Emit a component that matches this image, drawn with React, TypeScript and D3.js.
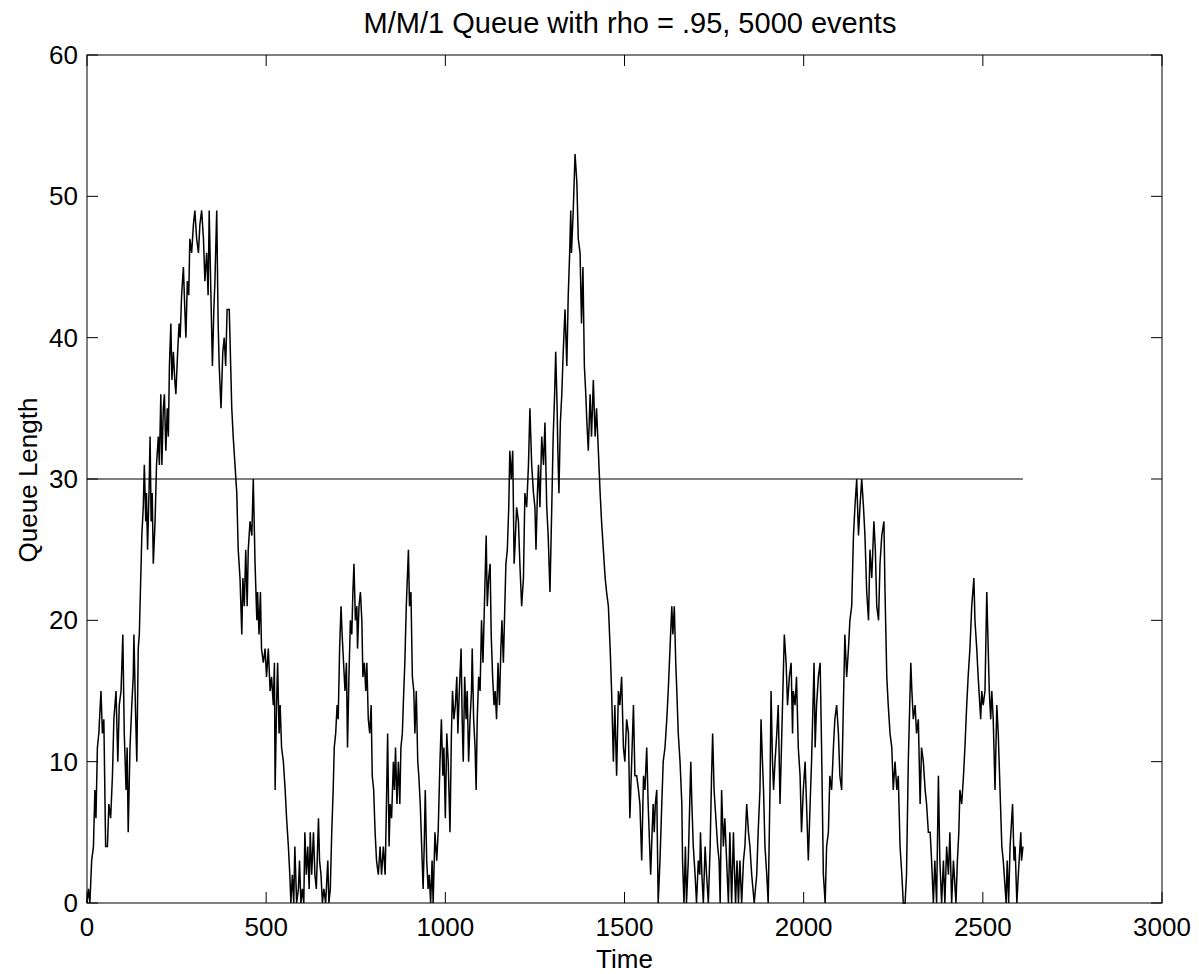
import React from "react";
import * as d3 from "d3";

const times: number[] = [
  0, 4, 8, 13, 18, 22, 25, 29, 33, 39, 43, 47, 52, 57, 61, 66, 71, 75, 81, 86, 90, 95, 100, 104, 109, 112, 115, 120, 125, 129, 131, 135, 139, 143, 146, 150, 153, 157, 160, 164, 166, 169, 173, 176, 179, 182, 185, 190, 194, 199, 202, 206, 209, 213, 216, 220, 224, 227, 230, 234, 237, 241, 245, 248, 253, 257, 260, 264, 269, 273, 276, 280, 284, 287, 292, 297, 301, 306, 311, 315, 320, 325, 329, 334, 338, 341, 345, 350, 354, 357, 362, 366, 369, 374, 379, 383, 387, 391,
  397, 401, 404, 408, 413, 418, 422, 427, 432, 435, 439, 443, 447, 450, 455, 460, 464, 469, 474, 476, 480, 484, 487, 492, 497, 501, 506, 511, 515, 520, 523, 525, 529, 532, 536, 539, 543, 548, 553, 557, 562, 566, 569, 573, 577, 580, 585, 590, 593, 597, 601, 605, 608, 612, 616, 620, 623, 627, 632, 636, 640, 646, 649, 653, 657, 661, 666, 672, 675, 679, 683, 687, 690, 694, 698, 701, 705, 709, 712, 716, 720, 724, 727, 731, 735, 739, 742, 745, 749, 753, 755, 759, 763, 767, 770, 774, 778, 781, 785, 789, 793, 796, 800,
  804, 808, 813, 818, 822, 827, 832, 835, 839, 843, 846, 850, 855, 858, 861, 865, 869, 873, 876, 880, 884, 887, 891, 894, 897, 900, 904, 908, 912, 915, 919, 923, 926, 930, 934, 938, 941, 944, 948, 952, 955, 959, 963, 966, 971, 976, 980, 985, 989, 993, 996, 1000, 1004, 1008, 1013, 1017, 1020, 1024, 1028, 1032, 1035, 1039, 1044, 1047, 1050, 1054, 1058, 1061, 1065, 1069, 1073, 1075, 1079, 1083, 1086, 1089, 1093, 1097, 1101, 1105, 1109, 1114, 1117, 1121, 1125, 1128, 1132, 1136, 1139, 1143, 1147, 1151, 1155, 1158, 1162, 1166, 1169, 1173, 1177, 1180, 1184, 1188, 1192,
  1194, 1199, 1204, 1208, 1213, 1218, 1222, 1227, 1232, 1236, 1241, 1246, 1250, 1253, 1257, 1260, 1264, 1269, 1274, 1278, 1283, 1287, 1292, 1297, 1301, 1305, 1308, 1312, 1314, 1317, 1321, 1325, 1329, 1334, 1339, 1343, 1347, 1350, 1352, 1357, 1362, 1367, 1371, 1376, 1380, 1384, 1388, 1392, 1395, 1399, 1404, 1408, 1413, 1418, 1422, 1427, 1432, 1436, 1441, 1446, 1450, 1455, 1460, 1464, 1469, 1473, 1478, 1483, 1487, 1492, 1497, 1501, 1506, 1511, 1515, 1520, 1525, 1529, 1534, 1539, 1543, 1548, 1553, 1557, 1562, 1566, 1573, 1577, 1580,
  1583, 1586, 1590, 1594, 1599, 1604, 1608, 1613, 1618, 1622, 1627, 1632, 1635, 1639, 1643, 1646, 1650, 1655, 1660, 1662, 1666, 1670, 1673, 1678, 1685, 1688, 1692, 1697, 1701, 1706, 1710, 1712, 1716, 1720, 1725, 1729, 1734, 1739, 1743, 1746, 1750, 1755, 1760, 1764, 1767, 1771, 1776, 1780, 1785, 1790, 1794, 1799, 1804, 1806, 1810, 1814, 1818, 1822, 1827, 1832, 1836, 1841, 1846, 1850, 1855, 1862, 1869, 1873, 1878, 1881, 1885, 1888, 1892, 1897, 1901, 1906, 1909, 1913, 1916, 1920, 1925, 1929, 1934, 1939, 1942, 1946, 1951, 1955, 1960, 1965, 1969,
  1971, 1976, 1980, 1985, 1990, 1994, 1999, 2004, 2008, 2013, 2018, 2022, 2026, 2029, 2032, 2036, 2041, 2046, 2050, 2055, 2060, 2064, 2069, 2073, 2078, 2083, 2087, 2092, 2097, 2101, 2106, 2110, 2115, 2120, 2125, 2129, 2134, 2139, 2143, 2148, 2153, 2157, 2162, 2167, 2171, 2176, 2181, 2185, 2190, 2196, 2200, 2204, 2209, 2213, 2218, 2224, 2227, 2232, 2236, 2241, 2246, 2250, 2255, 2260, 2264, 2269, 2274, 2278, 2283, 2287, 2292, 2299, 2302, 2306, 2311, 2315, 2320, 2325, 2329, 2334, 2339,
  2343, 2348, 2353, 2357, 2362, 2366, 2371, 2376, 2380, 2385, 2390, 2394, 2399, 2404, 2408, 2413, 2418, 2425, 2429, 2433, 2436, 2441, 2446, 2450, 2455, 2459, 2464, 2469, 2475, 2478, 2483, 2487, 2494, 2497, 2501, 2506, 2511, 2514, 2518, 2522, 2525, 2529, 2534, 2539, 2543, 2548, 2553, 2557, 2565, 2568, 2572, 2576, 2583, 2587, 2590, 2595, 2599, 2606, 2608, 2612,
];

const queueLength: number[] = [
  0, 1, 0, 3, 4, 8, 6, 11, 12, 15, 12, 13, 4, 4, 7, 6, 9, 13, 15, 10, 14, 15, 19, 12, 8, 11, 5, 11, 14, 16, 19, 14, 10, 18, 19, 23, 26, 28, 31, 27, 29, 25, 29, 33, 27, 29, 24, 27, 31, 33, 31, 36, 31, 35, 36, 32, 35, 33, 38, 41, 37, 39, 37, 36, 39, 41, 40, 43, 45, 42, 40, 44, 43, 47, 46, 48, 49, 47, 46, 48, 49, 47, 44, 46, 43, 49, 44, 38, 42, 44, 49, 41, 38, 35, 39, 40, 38, 42,
  42, 38, 35, 33, 31, 29, 25, 23, 19, 23, 21, 25, 21, 25, 27, 26, 30, 24, 20, 22, 19, 22, 18, 17, 18, 16, 18, 15, 16, 14, 17, 8, 14, 17, 12, 14, 11, 10, 8, 6, 4, 2, 0, 2, 0, 4, 0, 1, 3, 0, 1, 0, 5, 2, 4, 1, 5, 2, 5, 2, 1, 6, 3, 2, 0, 1, 0, 3, 0, 1, 5, 8, 11, 12, 14, 13, 18, 21, 19, 17, 15, 17, 11, 16, 20, 19, 22, 24, 20, 21, 18, 21, 22, 20, 16, 17, 15, 17, 13, 12, 14, 9, 8,
  5, 3, 2, 4, 2, 4, 2, 6, 12, 4, 7, 6, 10, 8, 11, 7, 10, 7, 11, 12, 15, 17, 21, 23, 25, 21, 22, 16, 15, 12, 15, 10, 9, 7, 4, 1, 4, 8, 3, 1, 2, 0, 3, 0, 5, 3, 5, 10, 13, 9, 11, 6, 12, 10, 5, 12, 15, 13, 14, 16, 12, 15, 18, 13, 10, 16, 13, 15, 10, 13, 15, 18, 13, 11, 8, 13, 16, 15, 20, 17, 21, 26, 21, 23, 24, 19, 16, 14, 15, 13, 17, 14, 18, 20, 17, 21, 24, 25, 28, 32, 30, 32, 24,
  25, 28, 27, 24, 21, 23, 29, 28, 31, 35, 31, 29, 28, 25, 29, 31, 28, 33, 31, 34, 28, 26, 22, 28, 33, 36, 39, 35, 32, 29, 34, 36, 39, 42, 38, 43, 46, 49, 46, 49, 53, 51, 47, 46, 41, 45, 38, 36, 34, 32, 36, 33, 37, 33, 35, 32, 29, 27, 25, 23, 22, 21, 18, 15, 10, 14, 9, 15, 14, 16, 11, 10, 13, 12, 6, 10, 14, 9, 9, 8, 7, 3, 9, 8, 11, 7, 2, 5, 7,
  5, 7, 8, 0, 3, 7, 10, 11, 13, 15, 18, 21, 19, 21, 17, 15, 12, 10, 7, 3, 0, 4, 0, 3, 10, 7, 4, 2, 0, 3, 2, 5, 2, 0, 4, 2, 0, 4, 9, 12, 8, 6, 4, 3, 0, 8, 4, 6, 3, 0, 5, 0, 5, 3, 0, 3, 0, 3, 0, 3, 4, 7, 5, 4, 2, 0, 2, 5, 8, 13, 10, 8, 4, 2, 0, 8, 15, 10, 8, 10, 12, 14, 7, 12, 15, 19, 17, 14, 16, 17, 12,
  15, 14, 16, 11, 9, 5, 8, 10, 7, 3, 7, 10, 14, 17, 11, 14, 16, 17, 11, 2, 0, 4, 5, 9, 8, 11, 13, 14, 12, 9, 8, 13, 19, 16, 18, 20, 21, 26, 28, 30, 26, 28, 30, 28, 26, 22, 20, 25, 23, 27, 25, 21, 20, 24, 26, 27, 22, 16, 14, 12, 11, 8, 10, 8, 9, 4, 2, 0, 0, 2, 10, 17, 15, 13, 14, 12, 13, 7, 11, 10, 8,
  7, 5, 5, 3, 0, 3, 0, 9, 3, 0, 3, 0, 4, 2, 5, 0, 3, 0, 3, 5, 8, 7, 9, 11, 14, 16, 18, 21, 23, 20, 18, 16, 13, 15, 14, 15, 22, 19, 15, 13, 15, 13, 8, 14, 12, 8, 4, 3, 0, 3, 0, 4, 7, 3, 4, 0, 2, 5, 3, 4,
];

const xTicks: number[] = [0, 500, 1000, 1500, 2000, 2500, 3000];
const yTicks: number[] = [0, 10, 20, 30, 40, 50, 60];
const thresholdValue = 30;

const titleText = "M/M/1 Queue with rho = .95, 5000 events";
const xLabel = "Time";
const yLabel = "Queue Length";

export default function App() {
  const W = 1199;
  const H = 974;
  const left = 87;
  const right = 1162;
  const top = 55;
  const bottom = 903;
  const x = d3.scaleLinear().domain([0, 3000]).range([left, right]);
  const y = d3.scaleLinear().domain([0, 60]).range([bottom, top]);
  const pts: [number, number][] = times.map((t, i) => [t, queueLength[i]]);
  const line = d3
    .line<[number, number]>()
    .x((d) => x(d[0]))
    .y((d) => y(d[1]));
  const tMax = d3.max(times) as number;
  const font = "'Liberation Sans', Arial, Helvetica, sans-serif";
  const tickLen = 11;
  return (
    <svg
      width={W}
      height={H}
      style={{ position: "absolute", left: 0, top: 0, background: "#fff" }}
      fontFamily={font}
    >
      <rect x={0} y={0} width={W} height={H} fill="#fff" />
      <path d={line(pts) || ""} fill="none" stroke="#000" strokeWidth={1.5} strokeLinejoin="miter" />
      <line
        x1={x(0)}
        x2={x(tMax)}
        y1={y(thresholdValue)}
        y2={y(thresholdValue)}
        stroke="#000"
        strokeWidth={1}
      />
      <rect x={left} y={top} width={right - left} height={bottom - top} fill="none" stroke="#000" strokeWidth={1} />
      {xTicks.map((t) => (
        <g key={"x" + t}>
          <line x1={x(t)} x2={x(t)} y1={bottom} y2={bottom - tickLen} stroke="#000" />
          <line x1={x(t)} x2={x(t)} y1={top} y2={top + tickLen} stroke="#000" />
          <text x={x(t)} y={bottom + 33} textAnchor="middle" fontSize={26} fill="#000">
            {t}
          </text>
        </g>
      ))}
      {yTicks.map((v) => (
        <g key={"y" + v}>
          <line x1={left} x2={left + tickLen} y1={y(v)} y2={y(v)} stroke="#000" />
          <line x1={right} x2={right - tickLen} y1={y(v)} y2={y(v)} stroke="#000" />
          <text x={left - 9} y={y(v) + 9} textAnchor="end" fontSize={26} fill="#000">
            {v}
          </text>
        </g>
      ))}
      <text x={630} y={33} textAnchor="middle" fontSize={29} fill="#000">
        {titleText}
      </text>
      <text x={(left + right) / 2} y={968} textAnchor="middle" fontSize={26} fill="#000">
        {xLabel}
      </text>
      <text
        transform={`translate(37, 480) rotate(-90)`}
        textAnchor="middle"
        fontSize={26}
        fill="#000"
      >
        {yLabel}
      </text>
    </svg>
  );
}
